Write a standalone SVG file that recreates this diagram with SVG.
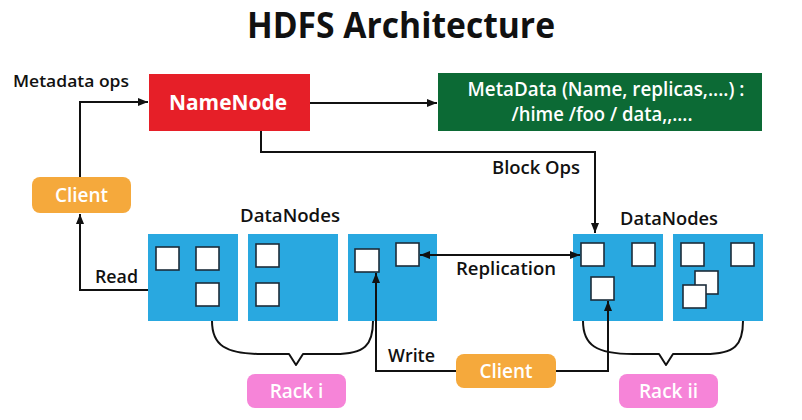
<svg xmlns="http://www.w3.org/2000/svg" width="802" height="420" viewBox="0 0 802 420">
<defs>
<style>
.t{font-family:"Open Sans","Liberation Sans",sans-serif;font-weight:600;fill:#111;}
.w{font-family:"Open Sans","Liberation Sans",sans-serif;font-weight:600;fill:#fff;text-anchor:middle;}
.dn{fill:#29a8e0;}
.sq{fill:#fff;stroke:#1c2c3a;stroke-width:1.6;}
.c{fill:none;stroke:#111;stroke-width:2;}
.br{fill:none;stroke:#111;stroke-width:2;stroke-linejoin:round;}
</style>
<marker id="ah" markerWidth="10" markerHeight="8" refX="10" refY="4" orient="auto-start-reverse" markerUnits="userSpaceOnUse">
<path d="M0,0 L10,4 L0,8 z" fill="#111"/>
</marker>
</defs>
<rect width="802" height="420" fill="#fff"/>
<text x="401" y="38" font-family="Open Sans, Liberation Sans, sans-serif" font-weight="700" font-size="35" text-anchor="middle" textLength="308" lengthAdjust="spacingAndGlyphs" fill="#111">HDFS Architecture</text>

<g id="namenode">
<rect x="149" y="74" width="161" height="57" fill="#e61f28"/>
<text class="w" x="228" y="110" font-size="22" style="font-weight:700" textLength="118" lengthAdjust="spacingAndGlyphs">NameNode</text>
</g>

<g id="metadata">
<rect x="438" y="73" width="324" height="58" fill="#0c6a35"/>
<text class="w" x="606" y="96" font-size="19" textLength="277" lengthAdjust="spacingAndGlyphs">MetaData (Name, replicas,....) :</text>
<text class="w" x="602" y="121" font-size="19" textLength="181" lengthAdjust="spacingAndGlyphs">/hime /foo / data,,....</text>
</g>

<g id="client1">
<rect x="32" y="177" width="99" height="36" rx="8" fill="#f5a93c"/>
<text class="w" x="81.5" y="202" font-size="19">Client</text>
</g>

<g id="client2">
<rect x="456" y="354" width="100" height="34" rx="8" fill="#f5a93c"/>
<text class="w" x="506" y="378" font-size="19">Client</text>
</g>

<g id="datanodes-label-left"><text class="t" x="240" y="222" font-size="18" textLength="100" lengthAdjust="spacingAndGlyphs">DataNodes</text></g>
<g id="datanodes-label-right"><text class="t" x="620" y="225" font-size="18" textLength="98" lengthAdjust="spacingAndGlyphs">DataNodes</text></g>

<g id="datanode1">
<rect class="dn" x="148" y="234" width="90" height="87"/>
<rect class="sq" x="156" y="247" width="23" height="23"/>
<rect class="sq" x="196" y="247" width="23" height="23"/>
<rect class="sq" x="196" y="283" width="23" height="23"/>
</g>
<g id="datanode2">
<rect class="dn" x="248" y="234" width="90" height="87"/>
<rect class="sq" x="256" y="244" width="23" height="23"/>
<rect class="sq" x="256" y="283" width="23" height="23"/>
</g>
<g id="datanode3">
<rect class="dn" x="348" y="234" width="89" height="87"/>
<rect class="sq" x="355" y="249" width="24" height="23"/>
<rect class="sq" x="396" y="243" width="23" height="23"/>
</g>
<g id="datanode4">
<rect class="dn" x="573" y="234" width="90" height="87"/>
<rect class="sq" x="581" y="243" width="23" height="23"/>
<rect class="sq" x="632" y="243" width="23" height="23"/>
<rect class="sq" x="591" y="277" width="23" height="23"/>
</g>
<g id="datanode5">
<rect class="dn" x="673" y="234" width="90" height="87"/>
<rect class="sq" x="681" y="243" width="23" height="23"/>
<rect class="sq" x="731" y="243" width="23" height="23"/>
<rect class="sq" x="695" y="271" width="23" height="23"/>
<rect class="sq" x="683" y="285" width="23" height="23"/>
</g>

<g id="rack-i">
<rect x="247" y="374" width="99" height="34" rx="8" fill="#f684d8"/>
<text class="w" x="296.5" y="398" font-size="19">Rack i</text>
</g>
<g id="rack-ii">
<rect x="619" y="374" width="99" height="34" rx="8" fill="#f684d8"/>
<text class="w" x="668.5" y="398" font-size="19">Rack ii</text>
</g>

<g id="connectors">
<path class="c" d="M310,103 H437" marker-end="url(#ah)"/>
<path class="c" d="M80,177 V102 H148" marker-end="url(#ah)"/>
<path class="c" d="M261,131 V152 H595 V233" marker-end="url(#ah)"/>
<path class="c" d="M148,290 H80 V214" marker-end="url(#ah)"/>
<path class="c" d="M420,255 H580" marker-start="url(#ah)" marker-end="url(#ah)"/>
<path class="c" d="M456,371 H376 V273" marker-end="url(#ah)"/>
<path class="c" d="M556,371 H608 V301" marker-end="url(#ah)"/>
<path class="br" d="M212,321 C212,345 225,354 262,354 H289 L296,365 L303,354 H335 C365,354 373,345 373,321"/>
<path class="br" d="M583,321 C583,345 596,354 633,354 H659 L666,365 L673,354 H705 C735,354 743,345 743,321"/>
<text class="t" x="13" y="87" font-size="17" textLength="116" lengthAdjust="spacingAndGlyphs">Metadata ops</text>
<text class="t" x="492" y="174" font-size="18" textLength="88" lengthAdjust="spacingAndGlyphs">Block Ops</text>
<text class="t" x="95" y="283" font-size="18" textLength="43" lengthAdjust="spacingAndGlyphs">Read</text>
<text class="t" x="456" y="275" font-size="18" textLength="100" lengthAdjust="spacingAndGlyphs">Replication</text>
<text class="t" x="388" y="362" font-size="18" textLength="47" lengthAdjust="spacingAndGlyphs">Write</text>
</g>
</svg>
